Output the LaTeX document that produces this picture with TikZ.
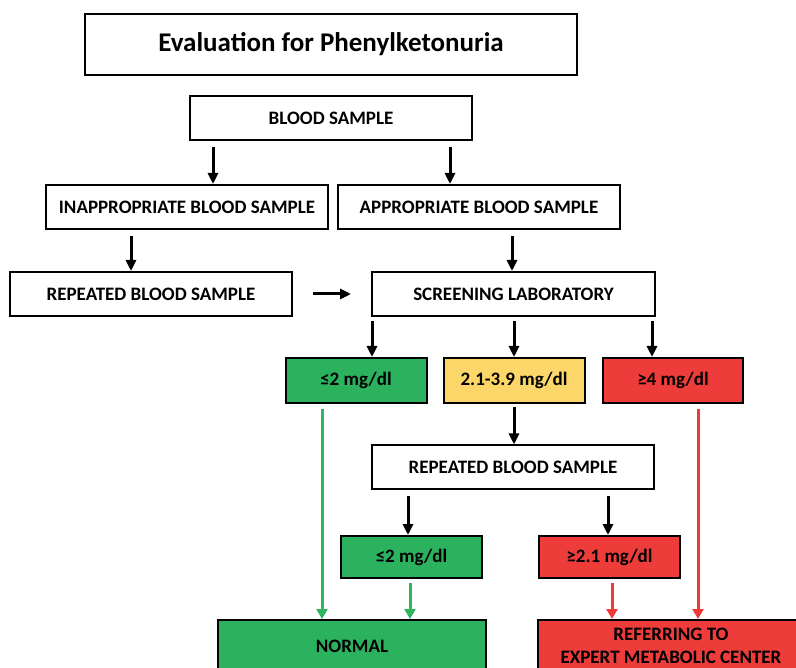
\documentclass[tikz,border=0pt]{standalone}
\usepackage{fontspec}
\setmainfont{Carlito}
\usetikzlibrary{arrows.meta, positioning, calc}

\definecolor{lowgreen}{RGB}{44,178,94}
\definecolor{midyellow}{RGB}{252,214,104}
\definecolor{highred}{RGB}{238,60,58}
\definecolor{greenline}{RGB}{48,182,94}
\definecolor{redline}{RGB}{240,58,56}

\tikzset{
  label font/.style={font=\bfseries\fontsize{19}{23}\selectfont},
  box/.style={draw, line width=2pt, inner sep=0pt, align=center, label font},
  wide/.style={box, minimum width=282, minimum height=44},
  level/.style={box, minimum width=141, minimum height=44},
  arr/.style={-{Triangle[length=11pt, width=10pt]}, line width=3pt},
  garr/.style={-{Triangle[length=10pt, width=11pt]}, line width=3pt, greenline},
  rarr/.style={-{Triangle[length=10pt, width=11pt]}, line width=3pt, redline}
}

\begin{document}
\begin{tikzpicture}[x=1pt, y=-1pt]
  \useasboundingbox (0,0) rectangle (796,668);

  % title and first sample
  \node[box, minimum width=492, minimum height=61, font=\bfseries\fontsize{27}{32}\selectfont]
    (title) at (331,44.5) {Evaluation for Phenylketonuria};
  \node[wide] (blood) at (331,118) {BLOOD SAMPLE};
  \node[wide] (inappr) at (187,207) {INAPPROPRIATE BLOOD SAMPLE};
  \node[wide] (appr) at (479,207) {APPROPRIATE BLOOD SAMPLE};
  \node[wide] (repeat) at (151,294) {REPEATED BLOOD SAMPLE};
  \node[wide, minimum width=283] (lab) at (513.5,294) {SCREENING LABORATORY};

  % screening results
  \node[level, fill=lowgreen, minimum height=45] (low) at (356,380.5) {≤2 mg/dl};
  \node[level, fill=midyellow, minimum height=45] (mid) at (514,380.5) {2.1-3.9 mg/dl};
  \node[level, fill=highred, minimum width=140, minimum height=45] (high) at (673,380.5) {≥4 mg/dl};

  % second sample and its results
  \node[wide] (repeatb) at (513,467.5) {REPEATED BLOOD SAMPLE};
  \node[level, fill=lowgreen, minimum height=42] (lowb) at (411.5,557) {≤2 mg/dl};
  \node[level, fill=highred, minimum height=42] (highb) at (609.5,557) {≥2.1 mg/dl};

  % outcomes (run past the lower edge)
  \node[box, fill=lowgreen, minimum width=268, minimum height=54, anchor=north]
    (normal) at (352,619) {};
  \node[label font] (normaltext) at (352,646) {NORMAL};
  \node[box, fill=highred, minimum width=268, minimum height=54, anchor=north west]
    (expert) at (537,619) {};
  \node[label font, align=center, inner sep=0pt] (experttext) at (671,646)
    {REFERRING TO\\EXPERT METABOLIC CENTER};

  % black arrows
  \draw[arr, shorten <=6pt] (blood.south -| 213,0) -- (inappr.north -| 213,0);
  \draw[arr, shorten <=6pt] (blood.south -| 450,0) -- (appr.north -| 450,0);
  \draw[arr, shorten <=6pt] (inappr.south -| 131,0) -- (repeat.north -| 131,0);
  \draw[arr, shorten <=6pt] (appr.south -| 512,0) -- (lab.north -| 512,0);
  \draw[arr, shorten <=20pt, shorten >=20pt] (repeat.east) -- (lab.west);
  \draw[arr, shorten <=4pt] (lab.south -| 372,0) -- (low.north -| 372,0);
  \draw[arr, shorten <=4pt] (lab.south -| 514,0) -- (mid.north);
  \draw[arr, shorten <=4pt] (lab.south -| 652,0) -- (high.north -| 652,0);
  \draw[arr, shorten <=3pt] (mid.south) -- (repeatb.north -| mid.south);
  \draw[arr, shorten <=6pt] (repeatb.south -| 408,0) -- (lowb.north -| 408,0);
  \draw[arr, shorten <=6pt] (repeatb.south -| 608,0) -- (highb.north -| 608,0);

  % coloured arrows to the outcomes
  \draw[garr, shorten <=5pt] (low.south -| 322,0) -- (normal.north -| 322,0);
  \draw[garr, shorten <=4pt] (lowb.south -| 410,0) -- (normal.north -| 410,0);
  \draw[rarr, shorten <=4pt] (highb.south -| 612,0) -- (expert.north -| 612,0);
  \draw[rarr, shorten <=5pt] (high.south -| 698,0) -- (expert.north -| 698,0);
\end{tikzpicture}
\end{document}
